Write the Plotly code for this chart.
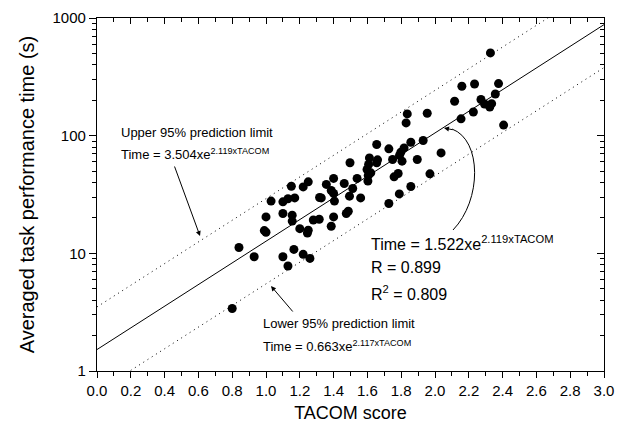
import plotly.graph_objects as go

# ---- data ----
tacom = [0.80, 0.84, 0.93, 0.99, 1.00, 1.00, 1.03, 1.10, 1.10, 1.13, 1.15, 1.17, 1.155, 1.155,
         1.10, 1.13, 1.165, 1.20, 1.22, 1.26, 1.245, 1.25, 1.22, 1.25, 1.28, 1.315, 1.317, 1.327,
         1.357, 1.386, 1.40, 1.386, 1.40, 1.405, 1.40, 1.463, 1.475, 1.487, 1.494, 1.497, 1.513,
         1.539, 1.56, 1.598, 1.603, 1.605, 1.607, 1.612, 1.62, 1.655, 1.655, 1.66, 1.727, 1.727,
         1.749, 1.758, 1.782, 1.789, 1.798, 1.805, 1.817, 1.829, 1.836, 1.857, 1.857, 1.79,
         1.895, 1.93, 1.954, 1.97, 2.036, 2.116, 2.154, 2.159, 2.227, 2.234, 2.272, 2.293, 2.324,
         2.328, 2.335, 2.357, 2.376, 2.406]
time_s = [3.4, 11.2, 9.35, 15.6, 15.1, 20.4, 27.8, 21.8, 27.4, 29.1, 37.2, 29.6, 21.1, 18.8,
          9.35, 7.8, 10.8, 16.2, 9.8, 9.06, 14.9, 15.7, 36.7, 40.5, 19.2, 19.5, 29.8, 29.6,
          38.5, 17.0, 20.4, 34.2, 32.3, 27.8, 43.3, 39.2, 21.8, 22.8, 30.6, 58.8, 35.6,
          43.3, 29.6, 51.6, 41.1, 45.9, 56.9, 64.7, 48.3, 84.1, 58.8, 62.3, 26.5, 77.3,
          62.7, 44.7, 47.7, 32.0, 72.4, 60.7, 78.7, 128.4, 153, 88.0, 37.0, 68.0,
          62.7, 91.0, 155, 47.4, 71.4, 196, 139, 263, 159, 275, 203, 186, 175,
          505, 187, 226, 277, 123]

line_x = [0.0, 3.0]
fit_y = [1.522, 878]      # Time = 1.522 e^(2.119 TACOM)
upper_y = [3.504, 2021]   # Time = 3.504 e^(2.119 TACOM)
lower_y = [0.663, 379]    # Time = 0.663 e^(2.117 TACOM)

x_ticks = [0.0, 0.2, 0.4, 0.6, 0.8, 1.0, 1.2, 1.4, 1.6, 1.8, 2.0, 2.2, 2.4, 2.6, 2.8, 3.0]
x_minor = [0.1, 0.3, 0.5, 0.7, 0.9, 1.1, 1.3, 1.5, 1.7, 1.9, 2.1, 2.3, 2.5, 2.7, 2.9]
y_ticks = [1, 10, 100, 1000]
y_ticktext = ["1", "10", "100", "1000"]
y_minor = [2, 3, 4, 5, 6, 7, 8, 9, 20, 30, 40, 50, 60, 70, 80, 90, 200, 300, 400, 500, 600, 700, 800, 900]

FONT = "Liberation Sans, Arial, sans-serif"
W, H = 623, 425
L, R, T, B = 89, 27, 10, 62
PW, PH = W - L - R, H - T - B


def px(xp, yp):
    return (xp - L) / PW, (T + PH - yp) / PH


fig = go.Figure()
fig.add_trace(go.Scatter(x=line_x, y=upper_y, mode="lines",
                         line=dict(color="black", width=1, dash="1px,4px"), showlegend=False))
fig.add_trace(go.Scatter(x=line_x, y=lower_y, mode="lines",
                         line=dict(color="black", width=1, dash="1px,4px"), showlegend=False))
fig.add_trace(go.Scatter(x=line_x, y=fit_y, mode="lines",
                         line=dict(color="black", width=1), showlegend=False))
fig.add_trace(go.Scatter(x=tacom, y=time_s, mode="markers",
                         marker=dict(color="black", size=9), showlegend=False))
# invisible trace to carry mirrored axes
fig.add_trace(go.Scatter(x=[None], y=[None], xaxis="x2", yaxis="y2", showlegend=False))

axis_common = dict(showline=True, linecolor="black", linewidth=1.3, showgrid=False,
                   zeroline=False, ticks="outside", tickcolor="black", tickwidth=1)

fig.update_layout(
    width=W, height=H,
    margin=dict(l=L, r=R, t=T, b=B, autoexpand=False),
    paper_bgcolor="white", plot_bgcolor="white",
    font=dict(family=FONT, color="black"),
    xaxis=dict(**axis_common, range=[0, 3], tickvals=x_ticks,
               ticktext=[f"{v:.1f}" for v in x_ticks], ticklen=6,
               tickfont=dict(size=15),
               minor=dict(tickvals=x_minor, ticks="outside", ticklen=4, tickcolor="black"),
               title=dict(text="TACOM score", font=dict(size=18), standoff=8)),
    yaxis=dict(**axis_common, type="log", range=[0, 3], tickvals=y_ticks, ticktext=y_ticktext,
               ticklen=7, tickfont=dict(size=15),
               minor=dict(tickvals=y_minor, ticks="outside", ticklen=4, tickcolor="black"),
               title=dict(text="Averaged task performance time (s)", font=dict(size=20), standoff=12)),
    xaxis2=dict(overlaying="x", side="top", range=[0, 3], showline=True, linecolor="black",
                linewidth=1.3, showgrid=False, zeroline=False, ticks="inside", ticklen=6,
                tickcolor="black", tickvals=x_ticks, showticklabels=False,
                minor=dict(tickvals=x_minor, ticks="inside", ticklen=4, tickcolor="black")),
    yaxis2=dict(overlaying="y", side="right", type="log", range=[0, 3], showline=True,
                linecolor="black", linewidth=1.3, showgrid=False, zeroline=False,
                ticks="inside", ticklen=7, tickcolor="black", tickvals=y_ticks,
                showticklabels=False,
                minor=dict(tickvals=y_minor, ticks="inside", ticklen=4, tickcolor="black")),
)

anns = []


def text_ann(xp, yp, text, size):
    x, y = px(xp, yp)
    anns.append(dict(x=x, y=y, xref="paper", yref="paper", text=text, showarrow=False,
                     xanchor="left", yanchor="middle", font=dict(size=size, family=FONT)))


text_ann(111, 124, "Upper 95% prediction limit", 13)
text_ann(111, 146, "Time = 3.504xe<sup>2.119xTACOM</sup>", 13)
text_ann(253, 315, "Lower 95% prediction limit", 13)
text_ann(253, 338, "Time = 0.663xe<sup>2.117xTACOM</sup>", 13)
text_ann(361, 235, "Time = 1.522xe<sup>2.119xTACOM</sup>", 16)
text_ann(361, 259, "R = 0.899", 16)
text_ann(361, 285, "R<sup>2</sup> = 0.809", 16)


def arrow(hx, hy, tx, ty):
    x, y = px(hx, hy)
    anns.append(dict(x=x, y=y, xref="paper", yref="paper", text="", showarrow=True,
                     ax=tx - hx, ay=ty - hy, arrowhead=2, arrowsize=1, arrowwidth=1,
                     arrowcolor="black", standoff=0))


arrow(192, 228, 166, 157)
arrow(263, 278, 286, 305)
arrow(436, 120, 446, 122)
fig.update_layout(annotations=anns)

# curved arrow body
p0 = px(445, 222); c1 = px(474, 192); c2 = px(474, 132); p1 = px(444, 121)
fig.add_shape(type="path", xref="paper", yref="paper",
              path=f"M {p0[0]},{p0[1]} C {c1[0]},{c1[1]} {c2[0]},{c2[1]} {p1[0]},{p1[1]}",
              line=dict(color="black", width=1))

fig.write_html("out.html")
